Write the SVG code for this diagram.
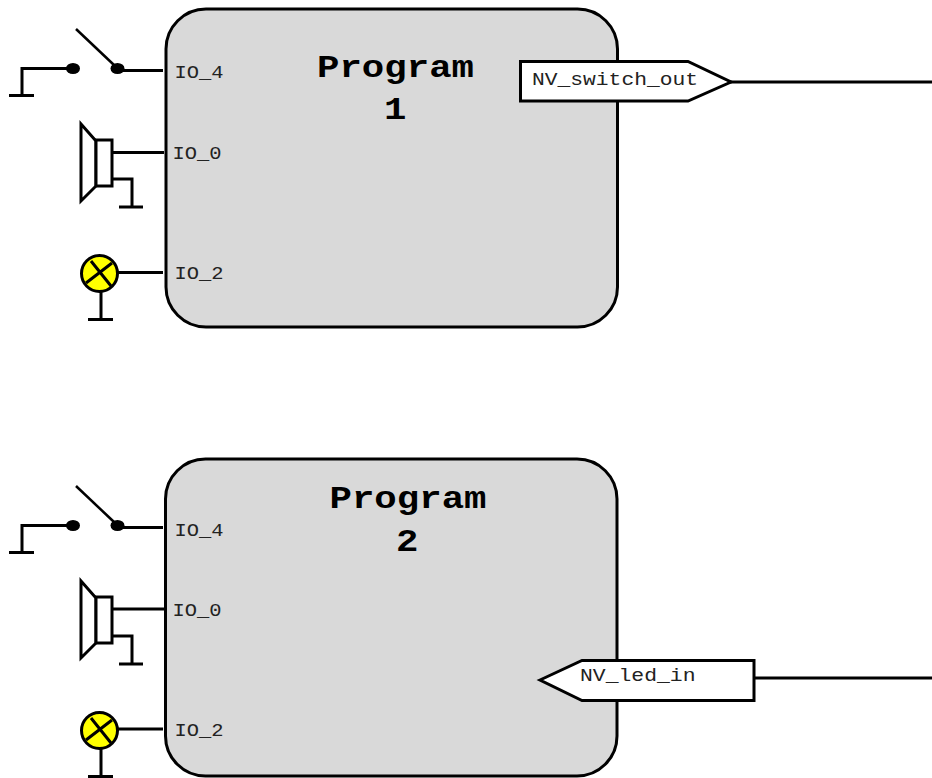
<svg xmlns="http://www.w3.org/2000/svg" width="932" height="778" viewBox="0 0 932 778">
<style>
.ln{fill:none;stroke:#000;stroke-width:3}
.thin{fill:none;stroke:#000;stroke-width:2.5}
.box{fill:#d9d9d9;stroke:#000;stroke-width:3}
.wh{fill:#fff;stroke:#000;stroke-width:3;stroke-linejoin:miter}
.lamp{fill:#ff0;stroke:#000;stroke-width:3}
.dot{fill:#000}
.t{font-family:"Liberation Mono",monospace;font-size:19px;fill:#222}
.h{font-family:"Liberation Mono",monospace;font-size:31px;font-weight:bold;fill:#000}
</style>
<defs>
<g id="switch">
<path class="thin" d="M76 29L114 65"/>
<path class="ln" d="M70 68.500H22V95M9 95.500H34"/>
<ellipse class="dot" cx="73" cy="68.500" rx="7" ry="5.500"/>
<ellipse class="dot" cx="117.500" cy="68.500" rx="7" ry="5.500"/>
</g>
<g id="speaker">
<path class="wh" d="M81 124L96 141V186L81 201Z"/>
<rect class="wh" x="96" y="140" width="16" height="46"/>
<path class="ln" d="M112 179H132V207M119 207H143"/>
</g>
<g id="lamp">
<circle class="lamp" cx="99.500" cy="273.500" r="18"/>
<path class="ln" d="M91 261L111 286M86 283L112 263M101 292V319M88 319.500H113"/>
</g>
</defs>
<g id="connectors">
<path class="ln" d="M120 70.500H163M112 152.500H164M118 272.500H163M730 82H932"/>
<path class="ln" d="M120 527.500H163M112 609H164M118 729H163M754 678H932"/>
</g>
<g id="program1">
<rect class="box" x="166" y="9" width="451.500" height="318" rx="40" ry="40"/>
<text class="h" x="317" y="76.500" textLength="157" lengthAdjust="spacingAndGlyphs">Program</text>
<text class="h" x="384" y="119" textLength="22.400" lengthAdjust="spacingAndGlyphs">1</text>
</g>
<g id="program2">
<rect class="box" x="165.500" y="459" width="451.500" height="317" rx="40" ry="40"/>
<text class="h" x="329.500" y="507.500" textLength="157" lengthAdjust="spacingAndGlyphs">Program</text>
<text class="h" x="396" y="551" textLength="22.400" lengthAdjust="spacingAndGlyphs">2</text>
</g>
<g id="switch1"><use href="#switch"/><text class="t" x="174.500" y="78" textLength="49" lengthAdjust="spacingAndGlyphs">IO_4</text></g>
<g id="speaker1"><use href="#speaker"/><text class="t" x="172.500" y="159" textLength="49" lengthAdjust="spacingAndGlyphs">IO_0</text></g>
<g id="lamp1"><use href="#lamp"/><text class="t" x="174.500" y="279" textLength="49" lengthAdjust="spacingAndGlyphs">IO_2</text></g>
<g id="switch2"><use href="#switch" y="457"/><text class="t" x="174.500" y="535.500" textLength="49" lengthAdjust="spacingAndGlyphs">IO_4</text></g>
<g id="speaker2"><use href="#speaker" y="457"/><text class="t" x="172.500" y="616" textLength="49" lengthAdjust="spacingAndGlyphs">IO_0</text></g>
<g id="lamp2"><use href="#lamp" y="457"/><text class="t" x="174.500" y="735.500" textLength="49" lengthAdjust="spacingAndGlyphs">IO_2</text></g>
<g id="nv-switch-out">
<path class="wh" d="M520.500 61.500H688L731 82L688 101H520.500Z"/>
<text class="t" x="532" y="85" textLength="166" lengthAdjust="spacingAndGlyphs">NV_switch_out</text>
</g>
<g id="nv-led-in">
<path class="wh" d="M540 680L582 660.500H754V700.500H582Z"/>
<text class="t" x="580" y="681" textLength="115.500" lengthAdjust="spacingAndGlyphs">NV_led_in</text>
</g>
</svg>
